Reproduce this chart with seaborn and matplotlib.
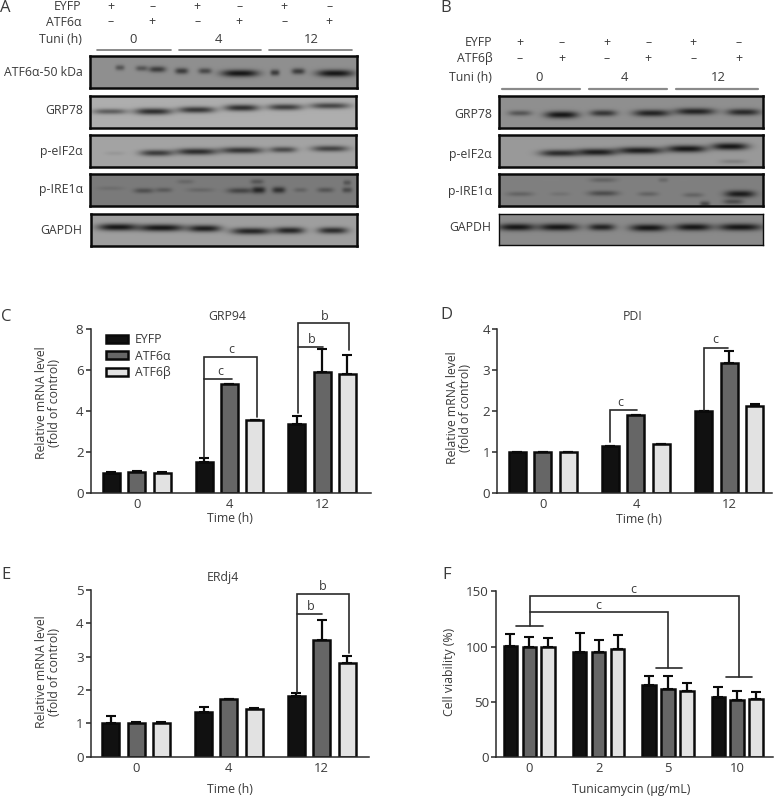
import numpy as np
import pandas as pd
import matplotlib
matplotlib.use("Agg")
import matplotlib.pyplot as plt
from matplotlib.transforms import Affine2D
import seaborn as sns

W, H = 777, 797
sns.set_theme(style="white")
plt.rcParams["font.family"] = ["Open Sans", "DejaVu Sans"]
INK = "#3a3a3a"

hue_names = ["EYFP", "ATF6α", "ATF6β"]
palette = ["#111111", "#666666", "#e2e2e2"]

time_labels = ["0", "4", "12"]
grp94_eyfp = [1.0, 1.5, 3.35]
grp94_a = [1.02, 5.3, 5.9]
grp94_b = [1.0, 3.55, 5.8]
grp94_eyfp_err = [0.03, 0.22, 0.42]
grp94_a_err = [0.05, 0.03, 1.12]
grp94_b_err = [0.02, 0.03, 0.92]

pdi_eyfp = [1.0, 1.15, 2.0]
pdi_a = [1.0, 1.9, 3.18]
pdi_b = [1.0, 1.2, 2.14]
pdi_eyfp_err = [0.0, 0.01, 0.01]
pdi_a_err = [0.0, 0.02, 0.28]
pdi_b_err = [0.0, 0.0, 0.04]

erdj_eyfp = [1.0, 1.33, 1.82]
erdj_a = [1.0, 1.72, 3.5]
erdj_b = [1.0, 1.42, 2.82]
erdj_eyfp_err = [0.22, 0.17, 0.1]
erdj_a_err = [0.04, 0.01, 0.61]
erdj_b_err = [0.03, 0.04, 0.21]

dose_labels = ["0", "2", "5", "10"]
via_eyfp = [100.5, 95, 65, 54.6]
via_a = [100, 95, 62, 51.6]
via_b = [100, 97.8, 60, 52.8]
via_eyfp_err = [10.5, 17, 8.3, 9.2]
via_a_err = [9, 10.6, 11.6, 8]
via_b_err = [8, 12.7, 6.7, 6.2]

# Blot bands: centre x, centre y (reference px x 3), half length, darkness
A_ATF6 = [(360,203,14,.45),(425,205,18,.45),(472,208,26,.65),(545,213,20,.65),(615,213,20,.55),
          (720,220,56,.95),(825,218,14,.65),(895,214,20,.65),(1005,220,55,.95)]
A_GRP78 = [(330,333,52,.5),(460,333,56,.8),(590,328,56,.75),(725,322,52,.8),(855,320,52,.7),(990,316,60,.65)]
A_EIF2 = [(345,460,30,.08),(470,459,50,.7),(590,455,62,.8),(725,451,65,.75),(850,449,40,.6),(990,446,55,.65)]
A_IRE1 = [(330,565,40,.12),(430,572,30,.4),(490,570,25,.3),(555,545,25,.18),(600,570,40,.18),(720,572,40,.5),
          (775,570,20,.8),(770,545,20,.35),(835,570,20,.7),(900,570,20,.22),(975,570,25,.35),(1040,570,15,.45),(1040,548,12,.35)]
A_GAPDH = [(355,683,60,.95),(485,685,70,.95),(615,687,50,.9),(755,695,60,.85),(870,693,45,.85),(1000,693,45,.8)]
B_GRP78 = [(360,338,35,.45),(485,343,50,.95),(610,338,40,.7),(755,338,55,.85),(885,333,60,.85),(1030,335,50,.8)]
B_EIF2 = [(480,458,60,.8),(590,455,60,.9),(720,450,70,.9),(860,445,60,.95),(990,438,55,.95),(1000,483,40,.18)]
B_IRE1 = [(360,582,40,.25),(480,582,30,.12),(610,580,45,.45),(610,540,40,.25),(745,582,30,.25),(790,540,15,.2),
          (880,585,30,.25),(915,612,15,.5),(1020,582,45,.9),(1000,605,30,.45)]
B_GAPDH = [(350,683,55,.95),(475,683,60,.95),(605,683,40,.85),(745,685,55,.95),(880,683,55,.95),(1020,683,65,.95)]

fig = plt.figure(figsize=(W / 100, H / 100), dpi=100, facecolor="white")
px = Affine2D().scale(1 / W, -1 / H).translate(0, 1) + fig.transFigure


def add_ax(left, top, right, bottom):
    return fig.add_axes([left / W, 1 - bottom / H, (right - left) / W, (bottom - top) / H])


def txt(x, y, s, size=8.8, ha="center", **kw):
    fig.text(x, y, s, transform=px, fontsize=size, ha=ha, va="center", color=INK, **kw)


def blot(left, top, right, bottom, bands, bg, lw=1.8):
    ax = add_ax(left, top, right, bottom)
    xs = np.arange(left, right) + 0.5
    ys = np.arange(top, bottom) + 0.5
    X, Y = np.meshgrid(xs, ys)
    keep = np.ones_like(X)
    for bx, by, hw, d in bands:
        dx = (X - bx / 3) / (hw / 3)
        dy = (Y - by / 3) / (2.0 + 1.7 * d)
        keep *= 1 - d * np.exp(-np.abs(dx) ** 3) * np.exp(-dy ** 2)
    img = 0.07 + (bg - 0.07) * keep
    sns.heatmap(img, ax=ax, cmap="gray", vmin=0, vmax=1, cbar=False,
                xticklabels=False, yticklabels=False, rasterized=True)
    for s in ax.spines.values():
        s.set_visible(True)
        s.set_color("#0a0a0a")
        s.set_linewidth(lw)


def hline(x0, x1, y, lw=1.2, color="#777777"):
    fig.add_artist(plt.Line2D([x0, x1], [y, y], transform=px, color=color, lw=lw))


# Panel A
blot(90, 56, 356.5, 88, A_ATF6, .56)
blot(90, 95.5, 355.5, 127.5, A_GRP78, .68)
blot(90, 135, 356, 166.5, A_EIF2, .64)
blot(89.5, 174, 356.5, 205.5, A_IRE1, .48)
blot(90.5, 213.5, 357, 246, A_GAPDH, .62)
for lab, y in [("ATF6α-50 kDa", 73), ("GRP78", 111), ("p-eIF2α", 151.5), ("p-IRE1α", 190), ("GAPDH", 230)]:
    txt(82.7, y, lab, ha="right")
for lab, y in [("EYFP", 6.7), ("ATF6α", 22), ("Tuni (h)", 39.7)]:
    txt(81.7, y, lab, ha="right")
for x, top_s, low_s in zip([111, 152.3, 197.3, 239.3, 284.3, 329.3], "+–+–+–", "–+–+–+"):
    txt(x, 6.7, top_s)
    txt(x, 22, low_s)
for x, lab in zip([132.7, 218.3, 311.7], time_labels):
    txt(x, 39.7, lab, size=9.4)
for x0, x1 in [(97.3, 170.7), (179, 260.7), (269, 352.3)]:
    hline(x0, x1, 50)

# Panel B
shift = 400


def shifted(bands):
    return [(b[0] + shift * 3, b[1], b[2], b[3]) for b in bands]


blot(499, 95.5, 762.7, 127.5, shifted(B_GRP78), .56)
blot(499, 134.5, 762.7, 166.5, shifted(B_EIF2), .60)
blot(499, 174, 762.7, 206, shifted(B_IRE1), .50)
blot(499, 213.5, 762.7, 245, shifted(B_GAPDH), .54, lw=1.0)
for lab, y in [("GRP78", 114), ("p-eIF2α", 154.3), ("p-IRE1α", 191), ("GAPDH", 227.7)]:
    txt(491.7, y, lab, ha="right")
for lab, y in [("EYFP", 42.7), ("ATF6β", 58.3), ("Tuni (h)", 77.7)]:
    txt(492.3, y, lab, ha="right")
for x, top_s, low_s in zip([520, 561.7, 606.7, 648.3, 693.3, 739], "+–+–+–", "–+–+–+"):
    txt(x, 42.7, top_s)
    txt(x, 58.3, low_s)
for x, lab in zip([539, 624.3, 718.3], time_labels):
    txt(x, 77.7, lab, size=9.4)
for x0, x1 in [(502.3, 580), (589.3, 667.3), (675.7, 758.3)]:
    hline(x0, x1, 89.3, lw=1.6, color="#8a8a8a")


def bars(box, cats, series, errs, ylim, yticks, xlim, gap, title, title_xy, xlabel, xlabel_xy,
         ylabel, ylabel_xy):
    ax = add_ax(*box)
    df = pd.DataFrame({
        "cat": list(cats) * 3,
        "hue": [h for h in hue_names for _ in cats],
        "val": [v for s in series for v in s],
    })
    sns.barplot(data=df, x="cat", y="val", hue="hue", order=list(cats), hue_order=hue_names,
                palette=palette, width=0.82, gap=gap, edgecolor="#0a0a0a", linewidth=1.8,
                saturation=1, legend=False, errorbar=None, ax=ax)
    for cont, err in zip(ax.containers, errs):
        xs = [r.get_x() + r.get_width() / 2 for r in cont]
        ys = [r.get_height() for r in cont]
        ax.errorbar(xs, ys, yerr=[np.zeros(len(err)), err], fmt="none", ecolor="#0a0a0a",
                    elinewidth=1.6, capsize=3.4, capthick=1.5, zorder=1.5)
    ax.set_xlim(*xlim)
    ax.set_ylim(*ylim)
    ax.set_yticks(yticks)
    sns.despine(ax=ax)
    for s in ("left", "bottom"):
        ax.spines[s].set_color("#2a2a2a")
        ax.spines[s].set_linewidth(1.1)
    ax.tick_params(axis="y", left=True, length=3.6, width=1.1, color="#2a2a2a", labelsize=9.6,
                   labelcolor=INK, pad=1.5)
    ax.tick_params(axis="x", bottom=False, length=0, labelsize=9.4, labelcolor=INK, pad=3.5)
    ax.set_xlabel(xlabel, fontsize=8.8, color=INK, va="center")
    ax.xaxis.set_label_coords(*xlabel_xy, transform=px)
    ax.set_ylabel(ylabel, fontsize=8.8, color=INK, va="center", ha="center", linespacing=1.0)
    ax.yaxis.set_label_coords(*ylabel_xy, transform=px)
    if title:
        txt(title_xy[0], title_xy[1], title, size=8.8)
    return ax


def bracket(ax, xs, ys):
    ax.plot(xs, ys, color="#2a2a2a", lw=1.2, clip_on=False, solid_joinstyle="miter", zorder=5)


def mark(ax, x, y, s):
    ax.text(x, y, s, fontsize=9, color=INK, ha="center", va="center", clip_on=False)


YL = "Relative mRNA level\n(fold of control)"

# Panel C
ax = bars((90.7, 329, 370.7, 493.3), time_labels, [grp94_eyfp, grp94_a, grp94_b],
          [grp94_eyfp_err, grp94_a_err, grp94_b_err], (0, 8), [0, 2, 4, 6, 8], (-0.496, 2.524), 0.33,
          "GRP94", (227, 317), "Time (h)", (230, 519), YL, (48, 403))
bracket(ax, [0.727, 0.727, 1.032], [1.79, 5.55, 5.55])
bracket(ax, [0.727, 0.727, 1.295, 1.295], [5.55, 6.62, 6.62, 3.73])
bracket(ax, [1.737, 1.737, 2.295, 2.295], [3.9, 8.31, 8.31, 6.98])
bracket(ax, [1.737, 2.014], [7.11, 7.11])
mark(ax, 0.906, 5.95, "c")
mark(ax, 1.018, 7.0, "c")
mark(ax, 2.025, 8.62, "b")
mark(ax, 1.885, 7.5, "b")
leg = ax.legend(handles=[c[0] for c in ax.containers], labels=hue_names, loc="upper left",
                bbox_to_anchor=(0.055, 0.975), frameon=False, fontsize=8.8, handlelength=1.8,
                handleheight=0.66, labelspacing=0.28, handletextpad=0.55, borderpad=0, borderaxespad=0,
                labelcolor=INK)

# Panel D
ax = bars((497.3, 329.3, 771.7, 493.3), time_labels, [pdi_eyfp, pdi_a, pdi_b],
          [pdi_eyfp_err, pdi_a_err, pdi_b_err], (0, 4), [0, 1, 2, 3, 4], (-0.489, 2.458), 0.33,
          "PDI", (632.7, 317), "Time (h)", (639, 520), YL, (459, 408))
bracket(ax, [0.72, 0.72, 1.014], [1.26, 2.02, 2.02])
bracket(ax, [1.731, 1.731, 1.993], [2.03, 3.545, 3.545])
mark(ax, 0.835, 2.22, "c")
mark(ax, 1.853, 3.75, "c")

# Panel E
ax = bars((90.7, 590, 369.3, 756.7), time_labels, [erdj_eyfp, erdj_a, erdj_b],
          [erdj_eyfp_err, erdj_a_err, erdj_b_err], (0, 5), [0, 1, 2, 3, 4, 5], (-0.488, 2.512), 0.33,
          "ERdj4", (222.7, 578), "Time (h)", (230, 790), YL, (48, 672))
bracket(ax, [1.735, 1.735, 2.29, 2.29], [1.95, 4.89, 4.89, 3.1])
bracket(ax, [1.735, 2.004], [4.28, 4.28])
mark(ax, 2.01, 5.1, "b")
mark(ax, 1.885, 4.5, "b")

# Panel F
ax = bars((496, 591.3, 773, 757), dose_labels, [via_eyfp, via_a, via_b],
          [via_eyfp_err, via_a_err, via_b_err], (0, 150), [0, 50, 100, 150], (-0.48, 3.517), 0.29,
          None, None, "Tunicamycin (µg/mL)", (631, 790), "Cell viability (%)", (450, 672))
bracket(ax, [-0.192, 0.192], [119, 119])
bracket(ax, [0.01, 0.01, 3.03, 3.03], [119, 146, 146, 72])
bracket(ax, [2.837, 3.21], [72, 72])
bracket(ax, [0.01, 2.005, 2.005], [131.6, 131.6, 80.3])
bracket(ax, [1.822, 2.197], [80.3, 80.3])
mark(ax, 1.5, 152, "c")
mark(ax, 1.0, 137, "c")

for lab, x, y in [("A", 5, 8), ("B", 446, 8), ("C", 6, 317), ("D", 446, 315), ("E", 6, 575), ("F", 447, 575)]:
    txt(x, y, lab, size=12)

fig.savefig("out.png", dpi=100, facecolor="white")
